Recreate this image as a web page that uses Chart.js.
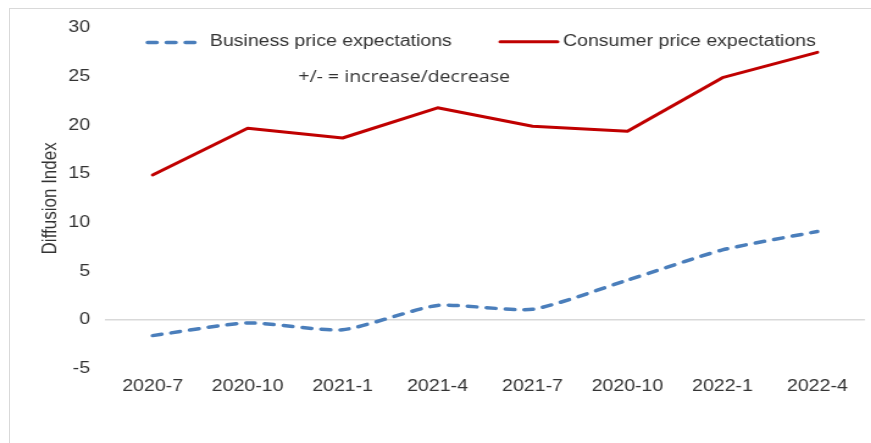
<!DOCTYPE html>
<html>
<head>
<meta charset="utf-8">
<script src="https://cdn.jsdelivr.net/npm/chart.js@4.4.1/dist/chart.umd.min.js"></script>
<style>
  html, body { margin: 0; padding: 0; background: #fff; }
  body { width: 871px; height: 443px; overflow: hidden; position: relative; }
  #frame {
    position: absolute; left: 9px; top: 8px; width: 900px; height: 500px;
    border: 1px solid #d9d9d9; box-sizing: border-box;
  }
  /* the source picture is stretched sideways, so the chart is too */
  #wrap {
    position: absolute; left: 0; top: 0; width: 714px; height: 443px;
    transform: scaleX(1.22); transform-origin: 0 0;
  }
</style>
</head>
<body>
<div id="frame"></div>
<div id="wrap"><canvas id="chart" width="714" height="443"></canvas></div>
<script>
const categories = ['2020-7', '2020-10', '2021-1', '2021-4', '2021-7', '2020-10', '2022-1', '2022-4'];
const businessValues = [-1.6, -0.3, -1.0, 1.5, 1.1, 4.1, 7.2, 9.1];
const consumerValues = [14.9, 19.7, 18.7, 21.8, 19.9, 19.4, 24.9, 27.5];
const yTicks = { min: -5, max: 30, step: 5 };
const noteText = '+/- = increase/decrease';

const textColor = '#333333';
const fontFamily = '"Liberation Sans", Arial, sans-serif';

// legend + note drawn inside the plot, like the original
const legendInPlot = {
  id: 'legendInPlot',
  afterDraw: (chart) => {
    const ctx = chart.ctx;
    const items = [
      { ds: chart.data.datasets[0], x0: 121, x1: 162, y: 42.5, textX: 172 },
      { ds: chart.data.datasets[1], x0: 410, x1: 457, y: 41.7, textX: 461.5 }
    ];
    ctx.save();
    items.forEach((item) => {
      ctx.beginPath();
      ctx.strokeStyle = item.ds.borderColor;
      ctx.lineWidth = item.ds.borderWidth;
      ctx.lineCap = item.ds.borderCapStyle || 'butt';
      ctx.setLineDash(item.ds.borderDash || []);
      ctx.moveTo(item.x0, item.y);
      ctx.lineTo(item.x1, item.y);
      ctx.stroke();
      ctx.setLineDash([]);
      ctx.fillStyle = textColor;
      ctx.font = `16px ${fontFamily}`;
      ctx.textBaseline = 'middle';
      ctx.textAlign = 'left';
      ctx.fillText(item.ds.label, item.textX, 42);
    });
    ctx.font = '16px "Open Sans", sans-serif';
    ctx.fillStyle = textColor;
    ctx.fillText(noteText, 244.5, 77.5);
    ctx.restore();
  }
};

new Chart(document.getElementById('chart'), {
  type: 'line',
  data: {
    labels: categories,
    datasets: [
      {
        label: 'Business price expectations',
        data: businessValues,
        borderColor: '#4a7ebb',
        borderWidth: 3.5,
        borderDash: [7.5, 8],
        borderCapStyle: 'round',
        tension: 0.2,
        pointRadius: 0,
        fill: false
      },
      {
        label: 'Consumer price expectations',
        data: consumerValues,
        borderColor: '#c00000',
        borderWidth: 3,
        borderCapStyle: 'round',
        borderJoinStyle: 'round',
        tension: 0,
        pointRadius: 0,
        fill: false
      }
    ]
  },
  options: {
    responsive: false,
    animation: false,
    devicePixelRatio: 1,
    layout: { padding: { left: 0, right: 5.1, top: 28, bottom: 0 } },
    plugins: {
      legend: { display: false },
      tooltip: { enabled: false }
    },
    scales: {
      x: {
        offset: true,
        grid: { display: false, drawTicks: false },
        border: { display: false },
        ticks: {
          color: textColor,
          padding: 8,
          maxRotation: 0,
          autoSkip: false,
          font: { family: fontFamily, size: 16 }
        },
        afterFit: (scale) => { scale.height = 74.3; }
      },
      y: {
        min: yTicks.min,
        max: yTicks.max,
        grid: {
          drawTicks: false,
          lineWidth: 1.5,
          color: (c) => (c.tick && c.tick.value === 0 ? '#d9d9d9' : 'rgba(0,0,0,0)')
        },
        border: { display: false },
        ticks: {
          stepSize: yTicks.step,
          color: textColor,
          padding: 12.4,
          font: { family: fontFamily, size: 16 }
        },
        title: {
          display: true,
          text: 'Diffusion Index',
          color: textColor,
          padding: { top: 31, bottom: 0 },
          font: { family: fontFamily, size: 17 }
        },
        afterFit: (scale) => { scale.width = 86.2; }
      }
    }
  },
  plugins: [legendInPlot]
});
</script>
</body>
</html>
